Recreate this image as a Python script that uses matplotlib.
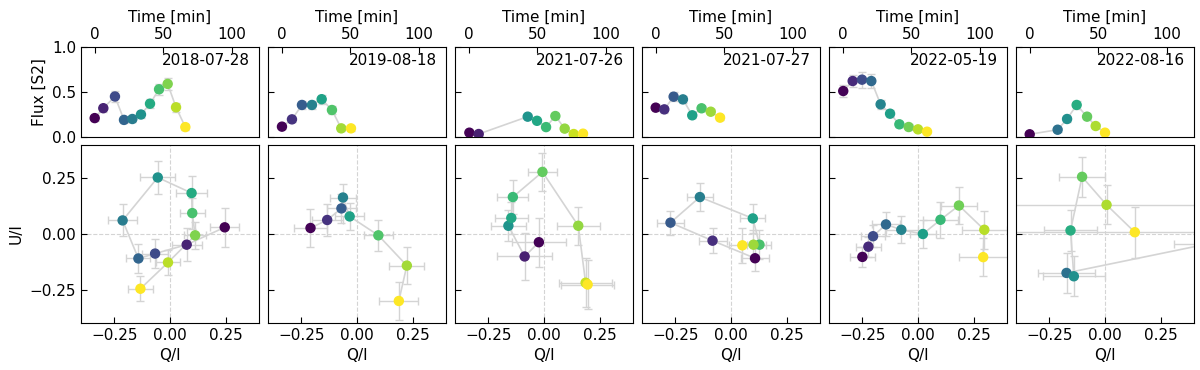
import numpy as np
import matplotlib
matplotlib.use("Agg")
import matplotlib.pyplot as plt

# Observation dates (one column each)
dates = ["2018-07-28", "2019-08-18", "2021-07-26",
         "2021-07-27", "2022-05-19", "2022-08-16"]

# Light curve: time [min], flux [S2], flux error
time_min = [
    [0, 6.3, 14.8, 21.4, 27.5, 33.8, 40.4, 47.0, 53.3, 59.4, 66.2],
    [0.2, 7.5, 14.8, 22.1, 29.2, 36.7, 43.5, 50.6],
    [0.5, 7.3, 43.1, 49.9, 56.5, 63.3, 70.1, 76.7, 83.5],
    [0, 6.3, 13.1, 19.9, 26.7, 33.5, 40.2, 47.0],
    [0.4, 7.3, 14.1, 20.9, 27.7, 34.6, 41.4, 48.2, 55.0, 61.6],
    [0, 20.4, 27.3, 34.3, 41.9, 48.2, 55.0],
]
flux = [
    [0.21, 0.32, 0.45, 0.19, 0.20, 0.25, 0.37, 0.53, 0.59, 0.33, 0.11],
    [0.115, 0.196, 0.356, 0.356, 0.42, 0.30, 0.096, 0.096],
    [0.048, 0.033, 0.226, 0.18, 0.11, 0.233, 0.093, 0.033, 0.037],
    [0.326, 0.307, 0.448, 0.418, 0.241, 0.319, 0.281, 0.215],
    [0.511, 0.622, 0.637, 0.622, 0.363, 0.259, 0.141, 0.111, 0.085, 0.059],
    [0.03, 0.081, 0.20, 0.356, 0.226, 0.122, 0.048],
]
flux_err = [
    [0.03, 0.04, 0.06, 0.03, 0.03, 0.04, 0.05, 0.06, 0.07, 0.05, 0.03],
    [0.03, 0.03, 0.04, 0.04, 0.05, 0.04, 0.03, 0.03],
    [0.02, 0.02, 0.03, 0.02, 0.02, 0.03, 0.02, 0.02, 0.02],
    [0.04, 0.04, 0.05, 0.04, 0.03, 0.03, 0.03, 0.03],
    [0.07, 0.07, 0.09, 0.08, 0.05, 0.04, 0.03, 0.03, 0.02, 0.02],
    [0.02, 0.02, 0.03, 0.04, 0.03, 0.02, 0.02],
]

# Polarisation: Q/I, U/I with errors
q_frac = [
    [0.246, 0.075, -0.067, -0.142, -0.213, -0.055, 0.097, 0.100, 0.113, -0.009, -0.133],
    [-0.209, -0.134, -0.070, -0.063, -0.033, 0.096, 0.224, 0.188],
    [-0.023, -0.087, -0.160, -0.147, -0.140, -0.007, 0.154, 0.187, 0.196],
    [0.108, -0.083, -0.272, -0.140, 0.098, 0.128, 0.101, 0.051],
    [-0.250, -0.223, -0.202, -0.144, -0.075, 0.022, 0.101, 0.184, 0.298, 0.293],
    [0.46, -0.173, -0.140, -0.155, -0.103, 0.007, 0.134],
]
u_frac = [
    [0.030, -0.048, -0.088, -0.110, 0.061, 0.254, 0.184, 0.094, -0.006, -0.128, -0.246],
    [0.027, 0.063, 0.115, 0.164, 0.079, -0.006, -0.142, -0.301],
    [-0.037, -0.101, 0.037, 0.072, 0.166, 0.279, 0.037, -0.219, -0.227],
    [-0.109, -0.030, 0.051, 0.166, 0.070, -0.048, -0.048, -0.051],
    [-0.103, -0.057, -0.010, 0.043, 0.019, 0.0, 0.064, 0.128, 0.019, -0.104],
    [-0.045, -0.175, -0.190, 0.016, 0.257, 0.131, 0.008],
]
q_err = [
    [0.065, 0.067, 0.06, 0.054, 0.064, 0.078, 0.07, 0.056, 0.05, 0.056, 0.056],
    [0.076, 0.07, 0.065, 0.06, 0.065, 0.064, 0.078, 0.088],
    [0.12, 0.125, 0.08, 0.075, 0.07, 0.065, 0.096, 0.12, 0.12],
    [0.065, 0.063, 0.06, 0.057, 0.057, 0.054, 0.055, 0.06],
    [0.055, 0.055, 0.055, 0.062, 0.075, 0.06, 0.078, 0.082, 0.1, 0.11],
    [0.15, 0.13, 0.14, 0.12, 0.105, 0.6, 0.6],
]
u_err = [
    [0.087, 0.075, 0.065, 0.066, 0.072, 0.075, 0.078, 0.07, 0.06, 0.056, 0.057],
    [0.085, 0.07, 0.065, 0.062, 0.06, 0.07, 0.084, 0.086],
    [0.11, 0.105, 0.07, 0.07, 0.078, 0.087, 0.086, 0.11, 0.11],
    [0.056, 0.056, 0.054, 0.061, 0.067, 0.065, 0.065, 0.08],
    [0.045, 0.045, 0.05, 0.054, 0.06, 0.064, 0.082, 0.082, 0.086, 0.086],
    [0.1, 0.09, 0.09, 0.093, 0.09, 0.088, 0.114],
]

plt.rcParams["font.size"] = 11
grey = "#d4d4d4"

fig = plt.figure(figsize=(12, 3.7), dpi=100)

W, H = 1200., 370.
lefts = [81, 268, 455, 642, 829, 1016]
width = 178

for i, date in enumerate(dates):
    t = np.array(time_min[i])
    colors = plt.cm.viridis(t / t.max())

    # --- top: light curve
    ax = fig.add_axes([lefts[i]/W, 1 - 137/H, width/W, 90/H])
    ax.errorbar(t, flux[i], yerr=flux_err[i], fmt="none", ecolor=grey,
                elinewidth=1, capsize=3, zorder=1)
    ax.plot(t, flux[i], color=grey, lw=1.2, zorder=2)
    ax.scatter(t, flux[i], c=colors, s=42, zorder=3)
    ax.set_xlim(-10, 120)
    ax.set_ylim(0, 1)
    ax.set_xticks([0, 50, 100])
    ax.set_yticks([0, 0.5, 1.0])
    ax.xaxis.tick_top()
    ax.xaxis.set_label_position("top")
    ax.set_xlabel("Time [min]")
    ax.tick_params(direction="in", length=4)
    ax.text(0.95, 0.93, date, transform=ax.transAxes, ha="right", va="top")
    if i == 0:
        ax.set_ylabel("Flux [S2]")
    else:
        ax.set_yticklabels([])

    # --- bottom: Q/I vs U/I
    bx = fig.add_axes([lefts[i]/W, 1 - 323/H, width/W, 178/H])
    bx.axhline(0, color=grey, ls="--", lw=0.8, zorder=0)
    bx.axvline(0, color=grey, ls="--", lw=0.8, zorder=0)
    bx.errorbar(q_frac[i], u_frac[i], xerr=q_err[i], yerr=u_err[i], fmt="none",
                ecolor=grey, elinewidth=1, capsize=3, zorder=1)
    bx.plot(q_frac[i], u_frac[i], color=grey, lw=1.2, zorder=2)
    bx.scatter(q_frac[i], u_frac[i], c=colors, s=42, zorder=3)
    bx.set_xlim(-0.4, 0.4)
    bx.set_ylim(-0.4, 0.4)
    bx.set_xticks([-0.25, 0, 0.25])
    bx.set_yticks([-0.25, 0, 0.25])
    bx.tick_params(direction="in", length=4)
    bx.set_xlabel("Q/I")
    if i == 0:
        bx.set_ylabel("U/I")
    else:
        bx.set_yticklabels([])

fig.savefig("out.png", dpi=100)
